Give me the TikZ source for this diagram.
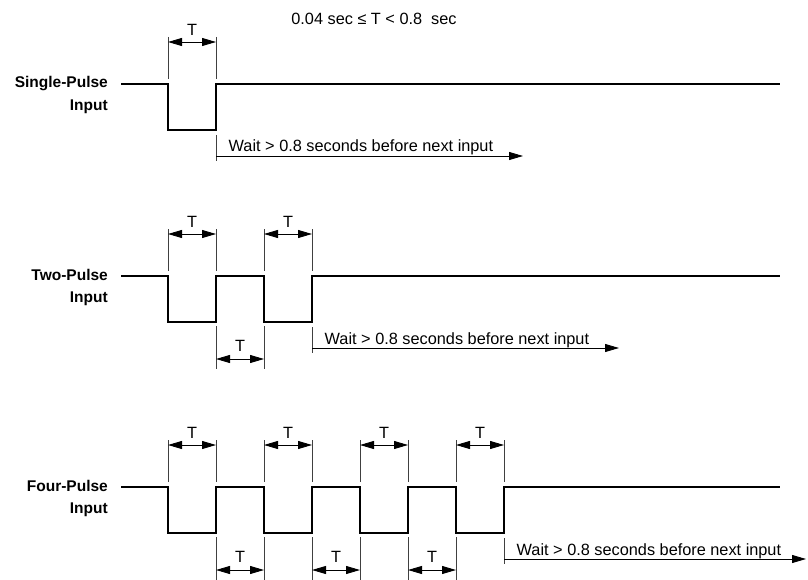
\documentclass[tikz,border=0pt]{standalone}
\usepackage{fontspec}
\setmainfont{Liberation Sans}
\usetikzlibrary{calc}
\usetikzlibrary{arrows.meta}

\tikzset{
  signal/.style={line width=1.4pt},
  tickline/.style={line width=0.8pt, black!75},
  dimarrow/.style={line width=0.9pt, {Triangle[length=14pt,width=8pt]}-{Triangle[length=14pt,width=8pt]}},
  waitarrow/.style={line width=0.9pt, -{Triangle[length=14pt,width=8pt]}},
  txt/.style={font=\fontsize{16.3}{19}\selectfont, inner sep=0pt},
  rowname/.style={font=\bfseries\fontsize{15.5}{22.5}\selectfont, align=right, inner sep=0pt, anchor=base east},
}

\begin{document}
\begin{tikzpicture}[x=1pt, y=-1pt]
\useasboundingbox (0,0) rectangle (808,580);

\def\w{48}
\def\dip{46}

% header
\node[txt] (range) at (374,19) {0.04 sec ≤ T < 0.8\ \ sec};

%% single pulse
\def\b{84}
\coordinate (S0) at (121,\b);
\coordinate (S1) at (168,\b);
\coordinate (S2) at (216,\b);
\coordinate (SE) at (780,\b);

\node[rowname] (single) at (108,{\b+26.5}) {Single-Pulse\\Input};

\draw[signal] (S0) -- (S1) -- ++(0,\dip) -- ($(S2)+(0,\dip)$) -- (S2) -- (SE);

\draw[tickline] ($(S1)+(0,-47)$) -- ($(S1)+(0,-5)$);
\draw[tickline] ($(S2)+(0,-47)$) -- ($(S2)+(0,-5)$);
\draw[dimarrow] ($(S1)+(0,-42)$) -- ($(S2)+(0,-42)$);
\node[txt] (sT1) at ($(S1)!0.5!(S2)+(0,-54)$) {T};

\draw[tickline] ($(S2)+(0,51)$) -- ($(S2)+(0,77)$);
\coordinate (Swait) at ($(S2)+(307,72)$);
\draw[waitarrow] ($(S2)+(0,72)$) -- (Swait);
\node[txt, anchor=base west] (swaittxt) at ($(S2)+(12.5,68)$) {Wait > 0.8 seconds before next input};

%% two pulse
\def\b{276}
\coordinate (T0) at (121,\b);
\coordinate (T1) at (168,\b);
\coordinate (T2) at (216,\b);
\coordinate (T3) at (264,\b);
\coordinate (T4) at (312,\b);
\coordinate (TE) at (780,\b);

\node[rowname] (two) at (108,{\b+26.5}) {Two-Pulse\\Input};

\draw[signal] (T0) -- (T1) -- ++(0,\dip) -- ($(T2)+(0,\dip)$) -- (T2) -- (T3)
  -- ++(0,\dip) -- ($(T4)+(0,\dip)$) -- (T4) -- (TE);

\draw[tickline] ($(T1)+(0,-47)$) -- ($(T1)+(0,-5)$);
\draw[tickline] ($(T2)+(0,-47)$) -- ($(T2)+(0,-5)$);
\draw[tickline] ($(T3)+(0,-47)$) -- ($(T3)+(0,-5)$);
\draw[tickline] ($(T4)+(0,-47)$) -- ($(T4)+(0,-5)$);
\draw[dimarrow] ($(T1)+(0,-42)$) -- ($(T2)+(0,-42)$);
\draw[dimarrow] ($(T3)+(0,-42)$) -- ($(T4)+(0,-42)$);
\node[txt] (tT1) at ($(T1)!0.5!(T2)+(0,-54)$) {T};
\node[txt] (tT2) at ($(T3)!0.5!(T4)+(0,-54)$) {T};

\draw[tickline] ($(T2)+(0,50)$) -- ($(T2)+(0,93)$);
\draw[tickline] ($(T3)+(0,50)$) -- ($(T3)+(0,93)$);
\draw[dimarrow] ($(T2)+(0,83)$) -- ($(T3)+(0,83)$);
\node[txt] (tL1) at ($(T2)!0.5!(T3)+(0,70)$) {T};

\draw[tickline] ($(T4)+(0,51)$) -- ($(T4)+(0,77)$);
\coordinate (Twait) at ($(T4)+(307,72)$);
\draw[waitarrow] ($(T4)+(0,72)$) -- (Twait);
\node[txt, anchor=base west] (twaittxt) at ($(T4)+(12.5,68)$) {Wait > 0.8 seconds before next input};

%% four pulse
\def\b{487}
\coordinate (F0) at (121,\b);
\coordinate (F1) at (168,\b);
\coordinate (F2) at (216,\b);
\coordinate (F3) at (264,\b);
\coordinate (F4) at (312,\b);
\coordinate (F5) at (360,\b);
\coordinate (F6) at (408,\b);
\coordinate (F7) at (456,\b);
\coordinate (F8) at (504,\b);
\coordinate (FE) at (780,\b);

\node[rowname] (four) at (108,{\b+26.5}) {Four-Pulse\\Input};

\draw[signal] (F0) -- (F1) -- ++(0,\dip) -- ($(F2)+(0,\dip)$) -- (F2) -- (F3)
  -- ++(0,\dip) -- ($(F4)+(0,\dip)$) -- (F4) -- (F5)
  -- ++(0,\dip) -- ($(F6)+(0,\dip)$) -- (F6) -- (F7)
  -- ++(0,\dip) -- ($(F8)+(0,\dip)$) -- (F8) -- (FE);

\draw[tickline] ($(F1)+(0,-47)$) -- ($(F1)+(0,-5)$);
\draw[tickline] ($(F2)+(0,-47)$) -- ($(F2)+(0,-5)$);
\draw[tickline] ($(F3)+(0,-47)$) -- ($(F3)+(0,-5)$);
\draw[tickline] ($(F4)+(0,-47)$) -- ($(F4)+(0,-5)$);
\draw[tickline] ($(F5)+(0,-47)$) -- ($(F5)+(0,-5)$);
\draw[tickline] ($(F6)+(0,-47)$) -- ($(F6)+(0,-5)$);
\draw[tickline] ($(F7)+(0,-47)$) -- ($(F7)+(0,-5)$);
\draw[tickline] ($(F8)+(0,-47)$) -- ($(F8)+(0,-5)$);
\draw[dimarrow] ($(F1)+(0,-42)$) -- ($(F2)+(0,-42)$);
\draw[dimarrow] ($(F3)+(0,-42)$) -- ($(F4)+(0,-42)$);
\draw[dimarrow] ($(F5)+(0,-42)$) -- ($(F6)+(0,-42)$);
\draw[dimarrow] ($(F7)+(0,-42)$) -- ($(F8)+(0,-42)$);
\node[txt] (fT1) at ($(F1)!0.5!(F2)+(0,-54)$) {T};
\node[txt] (fT2) at ($(F3)!0.5!(F4)+(0,-54)$) {T};
\node[txt] (fT3) at ($(F5)!0.5!(F6)+(0,-54)$) {T};
\node[txt] (fT4) at ($(F7)!0.5!(F8)+(0,-54)$) {T};

\draw[tickline] ($(F2)+(0,50)$) -- ($(F2)+(0,93)$);
\draw[tickline] ($(F3)+(0,50)$) -- ($(F3)+(0,93)$);
\draw[tickline] ($(F4)+(0,50)$) -- ($(F4)+(0,93)$);
\draw[tickline] ($(F5)+(0,50)$) -- ($(F5)+(0,93)$);
\draw[tickline] ($(F6)+(0,50)$) -- ($(F6)+(0,93)$);
\draw[tickline] ($(F7)+(0,50)$) -- ($(F7)+(0,93)$);
\draw[dimarrow] ($(F2)+(0,83)$) -- ($(F3)+(0,83)$);
\draw[dimarrow] ($(F4)+(0,83)$) -- ($(F5)+(0,83)$);
\draw[dimarrow] ($(F6)+(0,83)$) -- ($(F7)+(0,83)$);
\node[txt] (fL1) at ($(F2)!0.5!(F3)+(0,70)$) {T};
\node[txt] (fL2) at ($(F4)!0.5!(F5)+(0,70)$) {T};
\node[txt] (fL3) at ($(F6)!0.5!(F7)+(0,70)$) {T};

\draw[tickline] ($(F8)+(0,51)$) -- ($(F8)+(0,77)$);
\coordinate (Fwait) at ($(F8)+(302,72)$);
\draw[waitarrow] ($(F8)+(0,72)$) -- (Fwait);
\node[txt, anchor=base west] (fwaittxt) at ($(F8)+(12.5,68)$) {Wait > 0.8 seconds before next input};
\end{tikzpicture}
\end{document}
